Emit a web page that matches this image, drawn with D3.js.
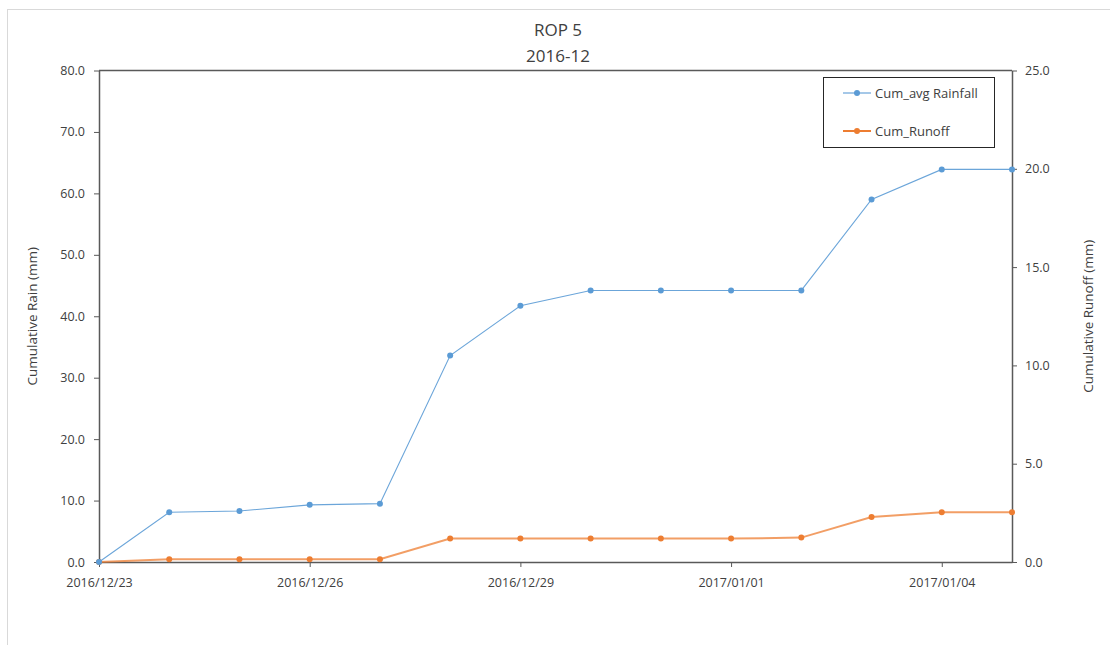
<!DOCTYPE html>
<html>
<head>
<meta charset="utf-8">
<script src="https://cdn.jsdelivr.net/npm/d3@7"></script>
<style>
  html, body { margin: 0; padding: 0; background: #fff; }
  svg { display: block; font-family: "Open Sans", "Liberation Sans", sans-serif; }
</style>
</head>
<body>
<svg id="chart" width="1110" height="645"></svg>
<script>
// Daily cumulative rainfall (left axis) and runoff (right axis), ROP 5
const dates = ["2016-12-23","2016-12-24","2016-12-25","2016-12-26","2016-12-27","2016-12-28","2016-12-29",
               "2016-12-30","2016-12-31","2017-01-01","2017-01-02","2017-01-03","2017-01-04","2017-01-05"];
const cumRainfall = [0.0, 8.1, 8.3, 9.3, 9.5, 33.6, 41.7, 44.2, 44.2, 44.2, 44.2, 59.0, 63.9, 63.9];
const cumRunoff   = [0.0, 0.14, 0.14, 0.14, 0.14, 1.19, 1.19, 1.19, 1.19, 1.19, 1.24, 2.29, 2.53, 2.53];
const rainTicks   = [0, 10, 20, 30, 40, 50, 60, 70, 80];
const runoffTicks = [0, 5, 10, 15, 20, 25];
const dateTicks   = ["2016-12-23","2016-12-26","2016-12-29","2017-01-01","2017-01-04"];
const seriesNames = ["Cum_avg Rainfall", "Cum_Runoff"];
const titleLines  = ["ROP 5", "2016-12"];

const parse = d3.utcParse("%Y-%m-%d");
const fmtDate = d3.utcFormat("%Y/%m/%d");
const fmt1 = d3.format(".1f");

const svg = d3.select("#chart");
const W = 1110, H = 645;
const m = { left: 99, right: 1012, top: 70.5, bottom: 562 };

const blue = "#5B9BD5", orange = "#ED7D31", axisCol = "#595959", textCol = "#404040";

// outer chart border
svg.append("rect").attr("x", 7.5).attr("y", 9.5).attr("width", W).attr("height", H)
  .attr("fill", "#fff").attr("stroke", "#d9d9d9").attr("stroke-width", 1);

const x = d3.scaleUtc().domain(d3.extent(dates, parse)).range([m.left, m.right]);
const yL = d3.scaleLinear().domain([0, 80]).range([m.bottom, m.top]);
const yR = d3.scaleLinear().domain([0, 25]).range([m.bottom, m.top]);

// title
svg.append("g").selectAll("text").data(titleLines).join("text")
  .attr("x", 558).attr("y", (d, i) => 36 + i * 26)
  .attr("text-anchor", "middle").attr("font-size", 17).attr("fill", textCol)
  .text(d => d);

// plot frame top edge
svg.append("line").attr("x1", m.left).attr("x2", m.right).attr("y1", m.top).attr("y2", m.top)
  .attr("stroke", axisCol).attr("stroke-width", 1.5);

function styleAxis(g) {
  g.select(".domain").attr("stroke", axisCol).attr("stroke-width", 1.5);
  g.selectAll(".tick line").attr("stroke", axisCol).attr("stroke-width", 1);
  g.selectAll(".tick text").attr("fill", textCol).attr("font-size", 12.5)
    .attr("font-family", "'Open Sans', sans-serif");
}

// left axis
svg.append("g").attr("transform", `translate(${m.left},0)`)
  .call(d3.axisLeft(yL).tickValues(rainTicks).tickFormat(fmt1).tickSize(5).tickSizeOuter(0).tickPadding(9))
  .call(styleAxis);

// right axis
svg.append("g").attr("transform", `translate(${m.right},0)`)
  .call(d3.axisRight(yR).tickValues(runoffTicks).tickFormat(fmt1).tickSize(5).tickSizeOuter(0).tickPadding(8))
  .call(styleAxis);

// bottom axis
svg.append("g").attr("transform", `translate(0,${m.bottom})`)
  .call(d3.axisBottom(x).tickValues(dateTicks.map(parse)).tickFormat(fmtDate).tickSize(5).tickSizeOuter(0).tickPadding(11))
  .call(styleAxis);

// axis titles
svg.append("text").attr("transform", `translate(37,${(m.top + m.bottom) / 2}) rotate(-90)`)
  .attr("text-anchor", "middle").attr("font-size", 13.5).attr("fill", textCol)
  .text("Cumulative Rain (mm)");
svg.append("text").attr("transform", `translate(1093,${(m.top + m.bottom) / 2}) rotate(-90)`)
  .attr("text-anchor", "middle").attr("font-size", 13.5).attr("fill", textCol)
  .text("Cumulative Runoff (mm)");

const rainData = dates.map((d, i) => ({ t: parse(d), v: cumRainfall[i] }));
const runoffData = dates.map((d, i) => ({ t: parse(d), v: cumRunoff[i] }));

// runoff series (right scale)
svg.append("path").datum(runoffData)
  .attr("fill", "none").attr("stroke", orange).attr("stroke-opacity", 0.75).attr("stroke-width", 2)
  .attr("d", d3.line().x(d => x(d.t)).y(d => yR(d.v)));
svg.append("g").selectAll("circle").data(runoffData).join("circle")
  .attr("cx", d => x(d.t)).attr("cy", d => yR(d.v)).attr("r", 3).attr("fill", orange);

// rainfall series (left scale)
svg.append("path").datum(rainData)
  .attr("fill", "none").attr("stroke", blue).attr("stroke-opacity", 0.9).attr("stroke-width", 1.1)
  .attr("d", d3.line().x(d => x(d.t)).y(d => yL(d.v)));
svg.append("g").selectAll("circle").data(rainData).join("circle")
  .attr("cx", d => x(d.t)).attr("cy", d => yL(d.v)).attr("r", 3).attr("fill", blue);

// legend
const lg = svg.append("g");
lg.append("rect").attr("x", 823.5).attr("y", 77.5).attr("width", 171).attr("height", 70)
  .attr("fill", "#fff").attr("stroke", "#262626").attr("stroke-width", 1);
const legendItems = seriesNames.map((n, i) => ({ name: n, color: i === 0 ? blue : orange, w: i === 0 ? 1.1 : 2 }));
const li = lg.selectAll("g.item").data(legendItems).join("g")
  .attr("transform", (d, i) => `translate(0,${93 + i * 38})`);
li.append("line").attr("x1", 843).attr("x2", 871).attr("stroke", d => d.color).attr("stroke-width", d => d.w);
li.append("circle").attr("cx", 857).attr("r", 3).attr("fill", d => d.color);
li.append("text").attr("x", 875).attr("dy", "0.35em").attr("font-size", 13).attr("fill", textCol)
  .text(d => d.name);
</script>
</body>
</html>
